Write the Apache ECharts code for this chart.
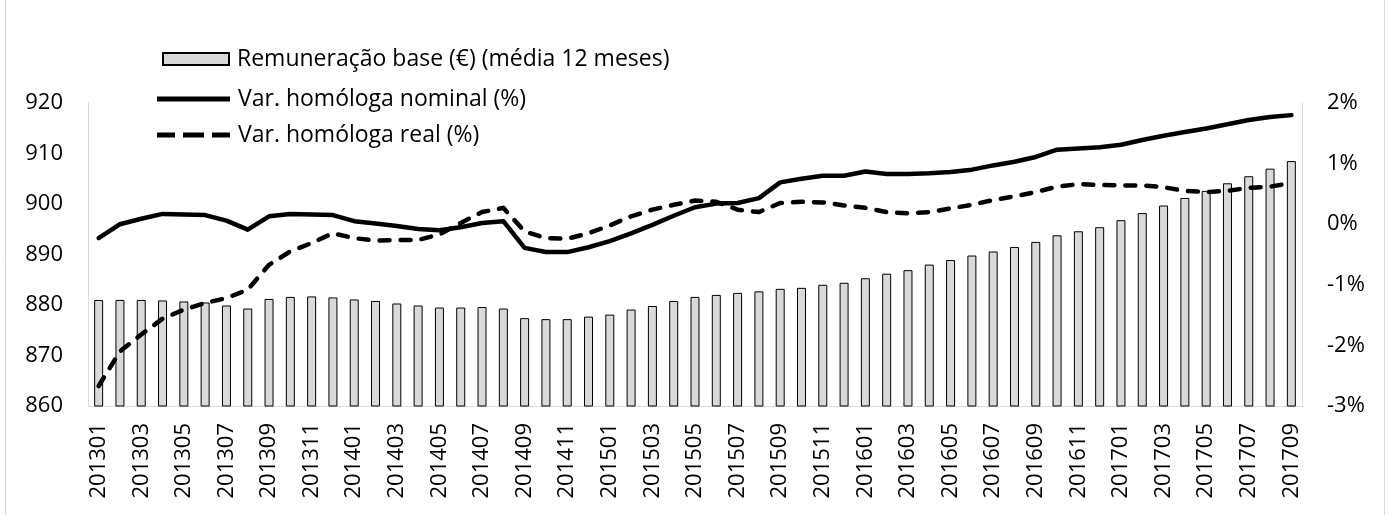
<!DOCTYPE html>
<html lang="pt">
<head>
  <meta charset="UTF-8">
  <script src="https://cdn.jsdelivr.net/npm/echarts/dist/echarts.min.js"></script>
  <style>
    body { margin: 0; background: #ffffff; }
    #main { width: 1389px; height: 515px; }
  </style>
</head>
<body>
  <div id="main"></div>
  <script>
    // months 201301 .. 201709
    var months = [
      '201301', '201302', '201303', '201304', '201305', '201306', '201307', '201308', '201309', '201310', '201311', '201312',
      '201401', '201402', '201403', '201404', '201405', '201406', '201407', '201408', '201409', '201410', '201411', '201412',
      '201501', '201502', '201503', '201504', '201505', '201506', '201507', '201508', '201509', '201510', '201511', '201512',
      '201601', '201602', '201603', '201604', '201605', '201606', '201607', '201608', '201609', '201610', '201611', '201612',
      '201701', '201702', '201703', '201704', '201705', '201706', '201707', '201708', '201709'
    ];

    // Remuneração base (€), média 12 meses
    var remuneracao = [
      881.0, 881.0, 881.0, 880.9, 880.7, 880.5, 879.9, 879.3, 881.2, 881.6,
      881.7, 881.5, 881.1, 880.8, 880.3, 879.9, 879.5, 879.5, 879.6, 879.3,
      877.4, 877.2, 877.2, 877.7, 878.1, 879.1, 879.8, 880.8, 881.6, 882.0,
      882.4, 882.7, 883.2, 883.4, 884.0, 884.4, 885.3, 886.2, 886.9, 888.0,
      888.9, 889.8, 890.6, 891.5, 892.5, 893.8, 894.6, 895.4, 896.8, 898.2,
      899.7, 901.2, 902.6, 904.1, 905.5, 907.0, 908.5
    ];

    // Var. homóloga nominal (%)
    var varNominal = [
      -0.23, 0.00, 0.09, 0.17, 0.16, 0.15, 0.06, -0.09, 0.13, 0.17,
      0.16, 0.15, 0.05, 0.01, -0.03, -0.08, -0.10, -0.05, 0.02, 0.05,
      -0.39, -0.46, -0.46, -0.38, -0.28, -0.15, -0.01, 0.14, 0.28, 0.34,
      0.35, 0.43, 0.69, 0.75, 0.80, 0.80, 0.87, 0.83, 0.83, 0.84,
      0.86, 0.90, 0.97, 1.03, 1.11, 1.23, 1.25, 1.27, 1.31, 1.39,
      1.46, 1.52, 1.58, 1.65, 1.72, 1.77, 1.80
    ];

    // Var. homóloga real (%)
    var varReal = [
      -2.67, -2.10, -1.82, -1.56, -1.41, -1.30, -1.22, -1.08, -0.67, -0.45,
      -0.31, -0.15, -0.23, -0.27, -0.26, -0.26, -0.17, 0.02, 0.20, 0.27,
      -0.12, -0.23, -0.24, -0.15, -0.02, 0.13, 0.24, 0.32, 0.39, 0.37,
      0.24, 0.20, 0.35, 0.37, 0.36, 0.31, 0.27, 0.20, 0.18, 0.20,
      0.26, 0.32, 0.40, 0.46, 0.53, 0.62, 0.66, 0.65, 0.64, 0.64,
      0.61, 0.55, 0.53, 0.55, 0.60, 0.62, 0.68
    ];

    var fontFamily = '"Open Sans", "Noto Sans", sans-serif';
    var legendText = { fontFamily: fontFamily, fontSize: 23, color: '#000', lineHeight: 24, padding: [0, 0, 0, 3] };
    var chart = echarts.init(document.getElementById('main'));

    var option = {
      animation: false,
      textStyle: { fontFamily: fontFamily, color: '#000' },
      graphic: [{
        type: 'rect',
        shape: { x: 5.5, y: -20, width: 1379, height: 560 },
        style: { fill: 'none', stroke: '#d9d9d9', lineWidth: 1 },
        silent: true
      }],
      legend: [{
        // bar entry
        orient: 'vertical',
        left: 162,
        top: 47,
        padding: 0,
        itemWidth: 66,
        itemHeight: 12,
        textStyle: legendText,
        data: [{ name: 'Remuneração base (€) (média 12 meses)', icon: 'rect' }]
      }, {
        // line entries
        orient: 'vertical',
        left: 157,
        top: 87,
        padding: 0,
        itemWidth: 73,
        itemHeight: 5,
        itemGap: 12,
        textStyle: legendText,
        data: [
          { name: 'Var. homóloga nominal (%)', icon: 'path://M0,0H73V5H0Z' },
          { name: 'Var. homóloga real (%)', icon: 'path://M0,0H18V5H0Z M26,0H47V5H26Z M55,0H73V5H55Z' }
        ]
      }],
      grid: { left: 88, right: 87, top: 103, bottom: 109 },
      xAxis: {
        type: 'category',
        data: months,
        axisLine: { show: true, onZero: false, lineStyle: { color: '#d9d9d9', width: 1 } },
        axisTick: { show: false },
        axisLabel: {
          interval: 1,
          rotate: 90,
          margin: 17,
          fontSize: 22,
          color: '#000',
          fontFamily: fontFamily
        }
      },
      yAxis: [{
        type: 'value',
        min: 860,
        max: 920,
        interval: 10,
        splitLine: { show: false },
        axisLine: { show: true, lineStyle: { color: '#d9d9d9' } },
        axisTick: { show: false },
        axisLabel: { margin: 25, fontSize: 22, color: '#000', fontFamily: fontFamily }
      }, {
        type: 'value',
        min: -3,
        max: 2,
        interval: 1,
        splitLine: { show: false },
        axisLine: { show: true, lineStyle: { color: '#d9d9d9' } },
        axisTick: { show: false },
        axisLabel: {
          margin: 25,
          fontSize: 22,
          color: '#000',
          fontFamily: fontFamily,
          formatter: '{value}%'
        }
      }],
      series: [{
        name: 'Remuneração base (€) (média 12 meses)',
        type: 'bar',
        yAxisIndex: 0,
        data: remuneracao,
        barWidth: 9,
        itemStyle: { color: '#d9d9d9', borderColor: '#000', borderWidth: 1 }
      }, {
        name: 'Var. homóloga nominal (%)',
        type: 'line',
        yAxisIndex: 1,
        data: varNominal,
        symbol: 'none',
        lineStyle: { color: '#000', width: 4.5, cap: 'round', join: 'round' },
        itemStyle: { color: '#000' }
      }, {
        name: 'Var. homóloga real (%)',
        type: 'line',
        yAxisIndex: 1,
        data: varReal,
        symbol: 'none',
        lineStyle: { color: '#000', width: 4.5, type: [10, 11], cap: 'round', join: 'round' },
        itemStyle: { color: '#000' }
      }]
    };

    chart.setOption(option);
  </script>
</body>
</html>
